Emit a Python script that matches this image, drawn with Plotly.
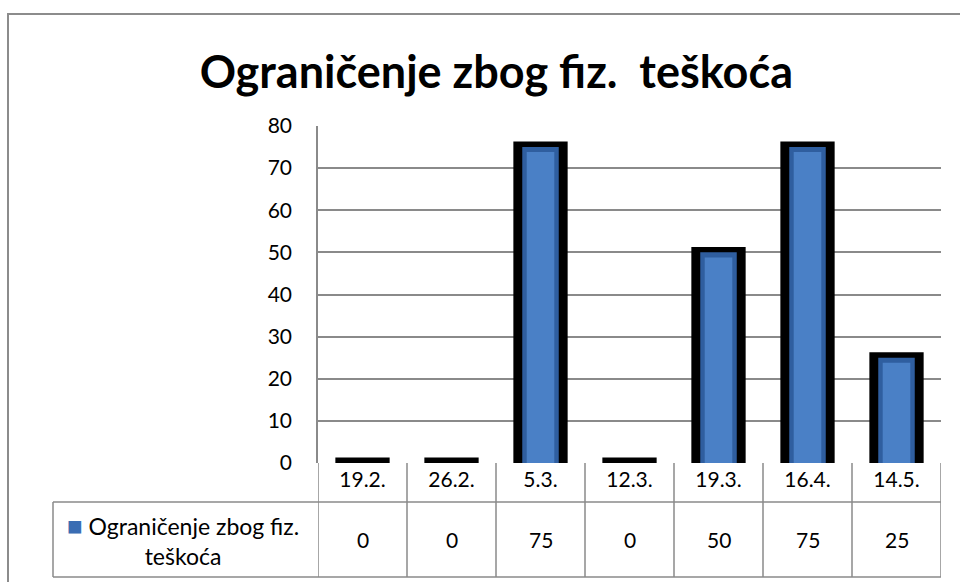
import plotly.graph_objects as go

# data
categories = ["19.2.", "26.2.", "5.3.", "12.3.", "19.3.", "16.4.", "14.5."]
values = [0, 0, 75, 0, 50, 75, 25]
series_name = "Ograničenje zbog fiz. teškoća"
title_text = "Ograničenje zbog fiz.&nbsp; teškoća"

W, H = 960, 582
L, R, T, B = 318, 19, 126, 119
pw, ph = W - L - R, H - T - B

def px_x(px):
    return (px - L) / pw

def px_y(py):
    return (H - B - py) / ph

FONT = "Lato"
GRID = "#8a8a8a"
pad = 1.3  # black frame sticks out above the blue fill

fig = go.Figure()

# black frame behind each bar (also visible for zero values)
fig.add_trace(go.Bar(
    x=categories, y=[v + pad for v in values],
    width=0.61, marker=dict(color="black", line=dict(width=0)),
    hoverinfo="skip", showlegend=False,
))
# blue fill
fig.add_trace(go.Bar(
    x=categories, y=values, name=series_name,
    width=0.41, marker=dict(color="#2f5e9f", line=dict(width=0)),
    showlegend=False,
))
# lighter centre to fake the bevel / gradient
fig.add_trace(go.Bar(
    x=categories, y=[max(v - 1.2, 0) for v in values],
    width=0.31, marker=dict(color="#4a80c6", line=dict(width=0)),
    hoverinfo="skip", showlegend=False,
))

shapes = []
line = dict(color=GRID, width=1.5)
row1 = px_y(502)
row2 = px_y(577)
left_col = px_x(53)

# table: vertical column borders
for i in range(len(categories) + 1):
    shapes.append(dict(type="line", xref="x", yref="paper",
                       x0=i - 0.5, x1=i - 0.5, y0=0, y1=row2, line=line))
# table: horizontal borders
shapes.append(dict(type="line", xref="paper", yref="paper",
                   x0=left_col, x1=1, y0=row1, y1=row1, line=line))
shapes.append(dict(type="line", xref="paper", yref="paper",
                   x0=left_col, x1=1, y0=row2, y1=row2, line=line))
shapes.append(dict(type="line", xref="paper", yref="paper",
                   x0=left_col, x1=left_col, y0=row1, y1=row2, line=line))
# outer chart frame
shapes.append(dict(type="rect", xref="paper", yref="paper",
                   x0=px_x(8), x1=px_x(975), y0=px_y(14), y1=px_y(600),
                   line=dict(color="#8c8c8c", width=2), layer="below"))

annotations = []
val_y = px_y(539)
for c, v in zip(categories, values):
    annotations.append(dict(x=c, y=val_y, xref="x", yref="paper",
                            text=str(v), showarrow=False,
                            xanchor="center", yanchor="middle",
                            font=dict(family=FONT, size=21, color="black")))
annotations.append(dict(
    x=px_x(183), y=val_y, xref="paper", yref="paper", showarrow=False,
    xanchor="center", yanchor="middle", align="center",
    text="<span style='color:#3a6db3;font-size:26px'>■</span> Ograničenje zbog fiz.<br>teškoća",
    font=dict(family=FONT, size=23, color="black")))

fig.update_layout(
    width=W, height=H,
    margin=dict(l=L, r=R, t=T, b=B),
    paper_bgcolor="white", plot_bgcolor="white",
    barmode="overlay",
    title=dict(text=title_text, x=0.517, xanchor="center", y=1 - 72 / H, yanchor="middle",
               font=dict(family=FONT, size=45, color="black", weight="bold")),
    xaxis=dict(type="category", range=[-0.5, 6.5], showgrid=False, showline=False,
               zeroline=False, ticks="", ticklabelstandoff=2,
               tickfont=dict(family=FONT, size=21, color="black")),
    yaxis=dict(range=[0, 80], dtick=10, showgrid=True, gridcolor=GRID, gridwidth=1.5,
               showline=True, linecolor=GRID, linewidth=1.5, zeroline=False,
               ticks="", ticklabelstandoff=20,
               tickfont=dict(family=FONT, size=21, color="black")),
    shapes=shapes,
    annotations=annotations,
)

# the page body has a default 8px margin; drop it so the figure fills the window
fig.write_html("out.html", config={"displayModeBar": False},
               post_script="document.body.style.margin='0px';")
